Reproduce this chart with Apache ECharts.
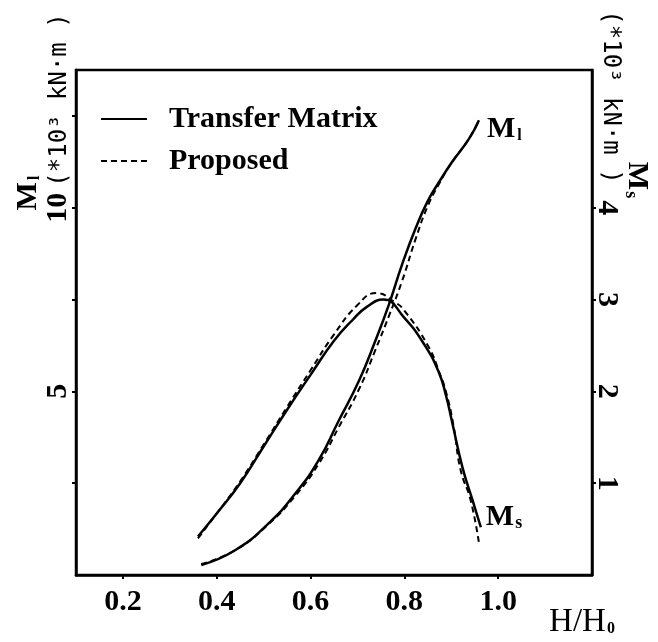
<!DOCTYPE html>
<html>
<head>
<meta charset="utf-8">
<script src="https://cdn.jsdelivr.net/npm/echarts@6/dist/echarts.min.js"></script>
<style>html,body{margin:0;background:#fff}#chart{width:658px;height:642px}</style>
</head>
<body>
<div id="chart"></div>
<script>
// M_l (left axis, *10^3 kN.m)
const mlX = [0.367, 0.44, 0.51, 0.567, 0.617, 0.66, 0.703, 0.738, 0.767, 0.795, 0.824, 0.849, 0.874, 0.902, 0.938, 0.959];
const mlTransfer = [0.27, 0.68, 1.40, 2.21, 3.12, 4.20, 5.28, 6.37, 7.36, 8.45, 9.44, 10.16, 10.70, 11.25, 11.88, 12.38];
const mlProposed = [0.30, 0.68, 1.38, 2.15, 3.02, 4.02, 5.05, 6.12, 7.05, 8.00, 9.15, 10.02, 10.65, 11.25, 11.88, 12.38];
// M_s (right axis, *10^3 kN.m)
const msX = [0.36, 0.40, 0.45, 0.50, 0.55, 0.60, 0.65, 0.69, 0.72, 0.755, 0.80, 0.845, 0.874, 0.889, 0.902, 0.924, 0.945, 0.963];
const msTransfer = [0.42, 0.67, 1.00, 1.40, 1.80, 2.18, 2.55, 2.78, 2.92, 3.00, 2.80, 2.49, 2.20, 1.95, 1.66, 1.17, 0.82, 0.52];
const msPropX = [0.36, 0.40, 0.45, 0.50, 0.55, 0.60, 0.65, 0.70, 0.74, 0.78, 0.80, 0.85, 0.875, 0.89, 0.905, 0.92, 0.941, 0.959];
const msProposed = [0.40, 0.67, 1.02, 1.42, 1.83, 2.23, 2.62, 2.94, 3.07, 2.97, 2.88, 2.50, 2.20, 1.97, 1.62, 1.14, 0.82, 0.35];

const xTicks = [0.2, 0.4, 0.6, 0.8, 1.0];
const leftTicks = [2.5, 5, 7.5, 10, 12.5];
const leftLabels = [5, 10];
const rightTicks = [1, 2, 3, 4];

const serif = "'Liberation Serif', serif";
const zip = (xs, ys) => xs.map((x, i) => [x, ys[i]]);

let myChart = echarts.init(document.getElementById('chart'));

const axisCommon = {
  type: 'value',
  axisLine: { show: true, lineStyle: { color: '#000', width: 2.5 } },
  splitLine: { show: false },
  axisLabel: { color: '#000', fontFamily: serif, fontWeight: 'bold', fontSize: 30 }
};

let option = {
  animation: false,
  color: ['#000'],
  grid: {
    left: 76, right: 66, top: 70, bottom: 67,
    show: true, borderColor: '#000', borderWidth: 2.5
  },
  legend: {
    data: ['Transfer Matrix', 'Proposed'],
    orient: 'vertical',
    left: 95,
    top: 98,
    itemWidth: 46,
    itemHeight: 14,
    itemGap: 10,
    itemStyle: { opacity: 0 },
    textStyle: { color: '#000', fontFamily: serif, fontWeight: 'bold', fontSize: 30, lineHeight: 32, padding: [0, 0, 0, 17] }
  },
  xAxis: Object.assign({}, axisCommon, {
    min: 0.1, max: 1.2,
    axisTick: { show: true, customValues: xTicks, length: 4, lineStyle: { color: '#000', width: 2 } },
    axisLabel: Object.assign({}, axisCommon.axisLabel, {
      customValues: xTicks, margin: 12,
      formatter: v => v.toFixed(1)
    })
  }),
  yAxis: [
    Object.assign({}, axisCommon, {
      position: 'left', min: 0, max: 13.75,
      axisTick: { show: true, customValues: leftTicks, length: 4, lineStyle: { color: '#000', width: 2 } },
      axisLabel: Object.assign({}, axisCommon.axisLabel, { customValues: leftLabels, rotate: 90, margin: 3 })
    }),
    Object.assign({}, axisCommon, {
      position: 'right', min: 0, max: 5.5,
      axisTick: { show: true, customValues: rightTicks, length: 4, lineStyle: { color: '#000', width: 2 } },
      axisLabel: Object.assign({}, axisCommon.axisLabel, { customValues: rightTicks, rotate: -90, margin: 0 })
    })
  ],
  series: [
    {
      name: 'Transfer Matrix', type: 'line', yAxisIndex: 0,
      data: zip(mlX, mlTransfer), smooth: 0.5, symbol: 'none',
      lineStyle: { color: '#000', width: 2.5 },
      endLabel: {
        show: true, offset: [0, 9], formatter: '{m|M}{s|l}',
        rich: {
          m: { fontFamily: serif, fontWeight: 'bold', fontSize: 30, color: '#000' },
          s: { fontFamily: serif, fontWeight: 'bold', fontSize: 16, color: '#000', padding: [14, 0, 0, 2] }
        }
      }
    },
    {
      name: 'Proposed', type: 'line', yAxisIndex: 0,
      data: zip(mlX, mlProposed), smooth: 0.5, symbol: 'none',
      lineStyle: { color: '#000', width: 2, type: [6, 4] }
    },
    {
      name: 'Transfer Matrix', type: 'line', yAxisIndex: 1,
      data: zip(msX, msTransfer), smooth: 0.5, symbol: 'none',
      lineStyle: { color: '#000', width: 2.5 },
      endLabel: {
        show: true, offset: [-3, -10], formatter: '{m|M}{s|s}',
        rich: {
          m: { fontFamily: serif, fontWeight: 'bold', fontSize: 30, color: '#000' },
          s: { fontFamily: serif, fontWeight: 'bold', fontSize: 18, color: '#000', padding: [12, 0, 0, 1] }
        }
      }
    },
    {
      name: 'Proposed', type: 'line', yAxisIndex: 1,
      data: zip(msPropX, msProposed), smooth: 0.5, symbol: 'none',
      lineStyle: { color: '#000', width: 2, type: [6, 4] }
    }
  ],
  graphic: [
    {
      type: 'text', x: 28, y: 193, rotation: Math.PI / 2,
      style: {
        text: '{m|M}{s|l}', align: 'center', verticalAlign: 'middle',
        rich: {
          m: { fontFamily: serif, fontWeight: 'bold', fontSize: 30, fill: '#000' },
          s: { fontFamily: serif, fontWeight: 'bold', fontSize: 16, fill: '#000', padding: [14, 0, 0, 2] }
        }
      }
    },
    {
      type: 'text', x: 60, y: 100, rotation: Math.PI / 2,
      style: {
        text: '(*10³ kN·m )', align: 'center', verticalAlign: 'middle',
        font: "24px 'DejaVu Sans Mono', monospace", fill: '#000'
      }
    },
    {
      type: 'text', x: 610, y: 97, rotation: -Math.PI / 2,
      style: {
        text: '(*10³ kN·m )', align: 'center', verticalAlign: 'middle',
        font: "24px 'DejaVu Sans Mono', monospace", fill: '#000'
      }
    },
    {
      type: 'text', x: 637, y: 180, rotation: -Math.PI / 2,
      style: {
        text: '{m|M}{s|s}', align: 'center', verticalAlign: 'middle',
        rich: {
          m: { fontFamily: serif, fontWeight: 'bold', fontSize: 30, fill: '#000' },
          s: { fontFamily: serif, fontWeight: 'bold', fontSize: 18, fill: '#000', padding: [12, 0, 0, 1] }
        }
      }
    },
    {
      type: 'text', x: 582, y: 622,
      style: {
        text: '{h|H/H}{s|0}', align: 'center', verticalAlign: 'middle',
        rich: {
          h: { fontFamily: serif, fontSize: 33, fill: '#000' },
          s: { fontFamily: serif, fontWeight: 'bold', fontSize: 16, fill: '#000', padding: [14, 0, 0, 1] }
        }
      }
    }
  ]
};

myChart.setOption(option);
</script>
</body>
</html>
